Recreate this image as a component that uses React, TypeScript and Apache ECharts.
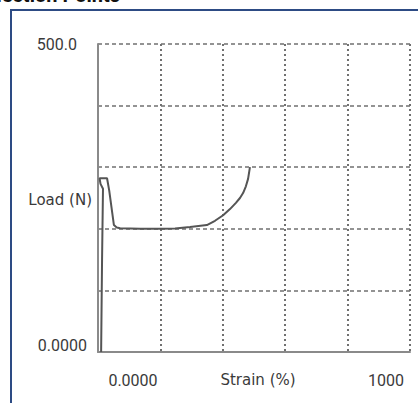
import React, { useEffect, useRef } from "react";
import * as echarts from "echarts";

// Strain (%) vs Load (N)
const strain = [10, 13, 16, 8, 5, 29, 36, 51, 60, 71, 135, 199, 247, 295, 349, 375, 401, 423, 442, 455, 465, 474, 481, 487];
const load = [0, 150, 265, 273, 282, 282, 262, 206, 202, 201, 200, 200, 200.5, 203, 206, 213, 222, 232, 242, 250, 258, 269, 281, 300];

const xMin = 0;
const xMax = 1000;
const xStep = 200;
const yMin = 0;
const yMax = 500;
const yStep = 100;

const yTickTexts = ["500.0", "0.0000"];
const xTickTexts = ["0.0000", "1000"];
const xName = "Strain (%)";
const yName = "Load (N)";
const title = "Inflection Points";

export default function App() {
  const ref = useRef<HTMLDivElement>(null);
  useEffect(() => {
    document.body.style.margin = "0";
    if (!ref.current) return;
    const chart = echarts.init(ref.current, null, { renderer: "svg" });
    const font = "Roboto, 'DejaVu Sans', sans-serif";
    const nameFont = "'DejaVu Sans', Roboto, sans-serif";
    const txt = "#3a3a3a";
    chart.setOption({
      animation: false,
      backgroundColor: "#fff",
      grid: { left: 98, top: 44, right: 8, bottom: 51 },
      xAxis: {
        type: "value",
        min: xMin,
        max: xMax,
        interval: xStep,
        axisLine: { show: true, onZero: false, lineStyle: { color: "#8a8a8a", width: 2 } },
        axisTick: { show: false },
        axisLabel: { show: false },
        splitLine: { show: true, lineStyle: { color: "#707070", width: 2, type: [2, 3] } },
      },
      yAxis: {
        type: "value",
        min: yMin,
        max: yMax,
        interval: yStep,
        axisLine: { show: true, lineStyle: { color: "#8a8a8a", width: 2 } },
        axisTick: { show: false },
        axisLabel: { show: false },
        splitLine: { show: true, lineStyle: { color: "#707070", width: 1.6, type: [4, 3] } },
      },
      series: [
        {
          type: "line",
          data: strain.map((s, i) => [s, load[i]]),
          showSymbol: false,
          symbol: "none",
          smooth: false,
          lineStyle: { color: "#555", width: 2 },
        },
      ],
      graphic: [
        {
          type: "rect",
          shape: { x: 11, y: 10, width: 600, height: 600 },
          style: { fill: "none", stroke: "#2d4b84", lineWidth: 2 },
        },
        {
          type: "text",
          x: 120,
          y: 5,
          style: { text: title, textAlign: "right", textVerticalAlign: "bottom", font: `bold 20px ${font}`, fill: "#111" },
        },
        {
          type: "text",
          x: 77,
          y: 44,
          style: { text: yTickTexts[0], textAlign: "right", textVerticalAlign: "middle", font: `16px ${font}`, fill: txt },
        },
        {
          type: "text",
          x: 92,
          y: 200,
          style: { text: yName, textAlign: "right", textVerticalAlign: "middle", font: `15px ${nameFont}`, fill: txt },
        },
        {
          type: "text",
          x: 87,
          y: 345,
          style: { text: yTickTexts[1], textAlign: "right", textVerticalAlign: "middle", font: `16px ${font}`, fill: txt },
        },
        {
          type: "text",
          x: 133,
          y: 380,
          style: { text: xTickTexts[0], textAlign: "center", textVerticalAlign: "middle", font: `16px ${font}`, fill: txt },
        },
        {
          type: "text",
          x: 258,
          y: 380,
          style: { text: xName, textAlign: "center", textVerticalAlign: "middle", font: `15px ${nameFont}`, fill: txt },
        },
        {
          type: "text",
          x: 386,
          y: 380,
          style: { text: xTickTexts[1], textAlign: "center", textVerticalAlign: "middle", font: `16px ${font}`, fill: txt },
        },
      ],
    });
    return () => chart.dispose();
  }, []);
  return <div ref={ref} style={{ width: 418, height: 403 }} />;
}
